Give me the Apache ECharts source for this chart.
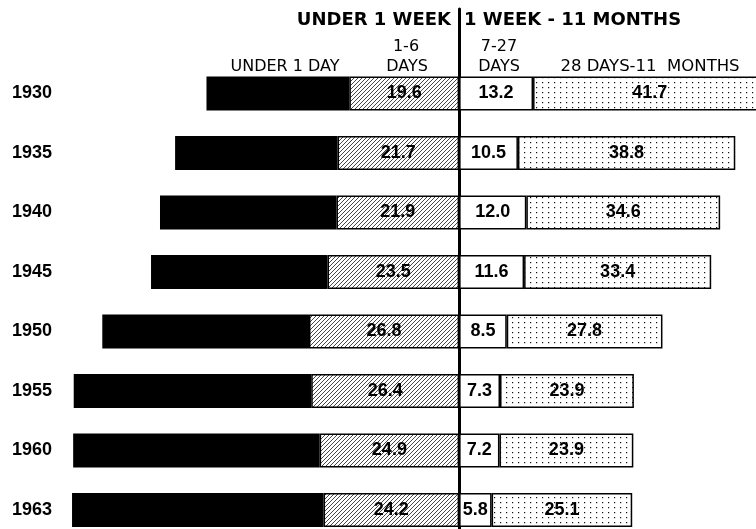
<!DOCTYPE html>
<html><head><meta charset="utf-8">
<script src="https://cdn.jsdelivr.net/npm/echarts@6/dist/echarts.min.js"></script>
<style>html,body{margin:0;padding:0;background:#fff}#c{width:756px;height:529px}</style>
</head><body><div id="c"></div>
<script>
// ---- data ----
const years = ['1930', '1935', '1940', '1945', '1950', '1955', '1960', '1963'];
const under1Day = [25.5, 29.0, 31.5, 31.5, 36.9, 42.4, 44.0, 44.9];   // unlabeled, estimated
const days1to6 = [19.6, 21.7, 21.9, 23.5, 26.8, 26.4, 24.9, 24.2];
const days7to27 = [13.2, 10.5, 12.0, 11.6, 8.5, 7.3, 7.2, 5.8];
const days28to11m = [41.7, 38.8, 34.6, 33.4, 27.8, 23.9, 23.9, 25.1];
const headTop = ['UNDER 1 WEEK', '1 WEEK - 11 MONTHS'];
const headSub = ['UNDER 1 DAY', '1-6', 'DAYS', '7-27', 'DAYS', '28 DAYS-11  MONTHS'];
const valueMin = -75, valueMax = 53;

// ---- patterns ----
function hatchPattern() {
  const c = document.createElement('canvas'); c.width = 4; c.height = 4;
  const g = c.getContext('2d');
  g.fillStyle = '#fff'; g.fillRect(0, 0, 4, 4);
  g.strokeStyle = '#333'; g.lineWidth = 0.9;
  g.beginPath();
  g.moveTo(0, 4); g.lineTo(4, 0);
  g.moveTo(-1, 1); g.lineTo(1, -1);
  g.moveTo(3, 5); g.lineTo(5, 3);
  g.stroke();
  return c;
}
function dotPattern() {
  const c = document.createElement('canvas'); c.width = 6; c.height = 5;
  const g = c.getContext('2d');
  g.fillStyle = '#fff'; g.fillRect(0, 0, 6, 5);
  g.fillStyle = '#111'; g.fillRect(2, 2, 1.2, 1.2);
  return c;
}

const chart = echarts.init(document.getElementById('c'), null, {renderer: 'canvas'});
const labelFont = {fontFamily: '"Liberation Sans", Arial, sans-serif', fontWeight: 'bold', fontSize: 18, color: '#000'};
const fmt = p => Math.abs(p.value).toFixed(1);
const border = {borderColor: '#000', borderWidth: 1.5};

const hf = '"DejaVu Sans", sans-serif';
function txt(text, x, y, align, bold, size) {
  return {type: 'text', x: x, y: y, style: {text: text, align: align, verticalAlign: 'middle',
    fontFamily: hf, fontWeight: bold ? 'bold' : 'normal', fontSize: size, fill: '#000'}};
}

chart.setOption({
  animation: false,
  backgroundColor: '#fff',
  grid: [
    {left: 39, width: 717, top: 93.5, bottom: 19},
    {left: 39, width: 717, top: 9, bottom: 0}
  ],
  xAxis: [
    {type: 'value', min: valueMin, max: valueMax, show: false, gridIndex: 0},
    {type: 'value', min: valueMin, max: valueMax, show: false, gridIndex: 1}
  ],
  yAxis: [
    {type: 'category', data: years, inverse: true, gridIndex: 0, boundaryGap: false,
      axisLine: {show: false}, axisTick: {show: false}, splitLine: {show: false},
      axisLabel: {align: 'left', margin: 27, fontFamily: '"Liberation Sans", Arial, sans-serif',
        fontWeight: 'bold', fontSize: 18, color: '#000'}},
    {type: 'value', min: 0, max: 1, gridIndex: 1,
      axisLine: {show: true, onZero: true, lineStyle: {color: '#000', width: 3}},
      axisTick: {show: false}, axisLabel: {show: false}, splitLine: {show: false}}
  ],
  graphic: [
    txt(headTop[0], 451, 20, 'right', true, 18),
    txt(headTop[1], 464, 20, 'left', true, 18),
    txt(headSub[0], 285, 67, 'center', false, 16),
    txt(headSub[1], 406, 47, 'center', false, 16),
    txt(headSub[2], 407, 67, 'center', false, 16),
    txt(headSub[3], 499, 47, 'center', false, 16),
    txt(headSub[4], 499, 67, 'center', false, 16),
    txt(headSub[5], 650, 67, 'center', false, 16.5)
  ],
  series: [
    {name: '1-6 DAYS', type: 'bar', stack: 'all', barWidth: 34, clip: false,
      data: days1to6.map(v => -v),
      itemStyle: Object.assign({color: {image: hatchPattern(), repeat: 'repeat'}}, border),
      label: Object.assign({show: true, position: 'inside', formatter: fmt}, labelFont)},
    {name: 'UNDER 1 DAY', type: 'bar', stack: 'all', barWidth: 34, clip: false,
      data: under1Day.map(v => -v),
      itemStyle: Object.assign({color: '#000'}, border)},
    {name: '7-27 DAYS', type: 'bar', stack: 'all', barWidth: 34, clip: false,
      data: days7to27,
      itemStyle: Object.assign({color: '#fff'}, border),
      label: Object.assign({show: true, position: 'inside', formatter: fmt}, labelFont)},
    {name: '28 DAYS-11 MONTHS', type: 'bar', stack: 'all', barWidth: 34, clip: false,
      data: days28to11m,
      itemStyle: Object.assign({color: {image: dotPattern(), repeat: 'repeat'}}, border),
      label: Object.assign({show: true, position: 'inside', formatter: fmt}, labelFont)}
  ]
});
</script></body></html>
